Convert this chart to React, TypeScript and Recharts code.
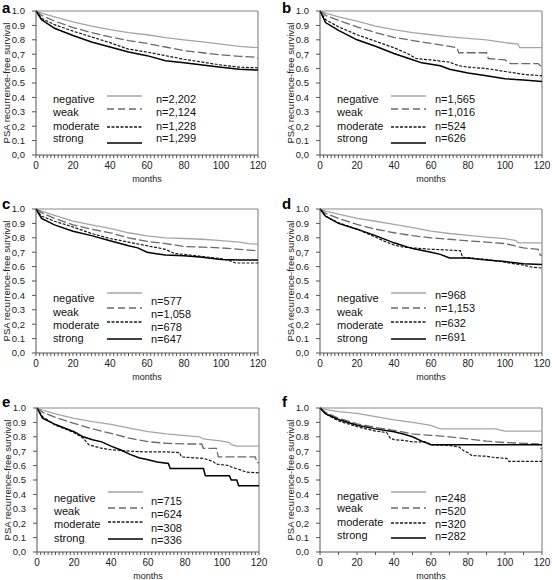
import React from "react";
import { LineChart, Line, XAxis, YAxis, ReferenceLine } from "recharts";

type Pt = [number, number];

const groups = ["negative", "weak", "moderate", "strong"];
const yTickLabels = ["0,0", "0.1", "0,2", "0.3", "0.4", "0.5", "0.6", "0,7", "0.8", "0.9", "1.0"];
const xTickLabels = ["0", "20", "40", "60", "80", "100", "120"];

// panel a
const aNegative: Pt[] = [[0, 1], [3, 0.985], [10, 0.96], [20, 0.925], [30, 0.895], [40, 0.87], [50, 0.85], [60, 0.835], [70, 0.815], [80, 0.8], [90, 0.785], [100, 0.77], [110, 0.755], [120, 0.745]];
const aWeak: Pt[] = [[0, 1], [3, 0.97], [10, 0.93], [20, 0.885], [30, 0.85], [40, 0.82], [50, 0.795], [60, 0.775], [70, 0.75], [80, 0.725], [90, 0.71], [100, 0.695], [110, 0.685], [118, 0.68], [120, 0.67]];
const aModerate: Pt[] = [[0, 1], [3, 0.95], [10, 0.905], [20, 0.86], [30, 0.82], [40, 0.78], [50, 0.735], [60, 0.715], [70, 0.69], [80, 0.665], [90, 0.645], [100, 0.625], [110, 0.61], [120, 0.605]];
const aStrong: Pt[] = [[0, 1], [3, 0.94], [10, 0.88], [20, 0.83], [30, 0.785], [40, 0.75], [50, 0.715], [60, 0.69], [70, 0.655], [80, 0.64], [90, 0.625], [100, 0.61], [110, 0.595], [120, 0.59]];
const aCounts = ["n=2,202", "n=2,124", "n=1,228", "n=1,299"];

// panel b
const bNegative: Pt[] = [[0, 1], [3, 0.985], [10, 0.96], [20, 0.93], [30, 0.895], [40, 0.87], [50, 0.85], [60, 0.835], [70, 0.82], [80, 0.81], [90, 0.8], [100, 0.78], [107, 0.77], [108, 0.745], [120, 0.745]];
const bWeak: Pt[] = [[0, 1], [3, 0.97], [10, 0.935], [20, 0.89], [30, 0.85], [40, 0.817], [50, 0.795], [60, 0.775], [70, 0.755], [74, 0.745], [75, 0.71], [90, 0.71], [91, 0.67], [100, 0.66], [103, 0.635], [118, 0.635], [119, 0.62], [120, 0.62]];
const bModerate: Pt[] = [[0, 1], [3, 0.94], [10, 0.89], [20, 0.835], [30, 0.79], [40, 0.745], [48, 0.7], [52, 0.67], [60, 0.66], [70, 0.645], [75, 0.62], [80, 0.61], [90, 0.6], [100, 0.58], [110, 0.56], [120, 0.55]];
const bStrong: Pt[] = [[0, 1], [3, 0.92], [10, 0.865], [20, 0.8], [30, 0.755], [40, 0.705], [48, 0.67], [55, 0.64], [60, 0.63], [65, 0.62], [70, 0.595], [80, 0.57], [90, 0.55], [100, 0.53], [110, 0.52], [120, 0.51]];
const bCounts = ["n=1,565", "n=1,016", "n=524", "n=626"];

// panel c
const cNegative: Pt[] = [[0, 1], [3, 0.985], [10, 0.955], [20, 0.915], [30, 0.89], [40, 0.865], [50, 0.835], [60, 0.813], [70, 0.8], [80, 0.795], [90, 0.79], [100, 0.78], [110, 0.77], [115, 0.76], [120, 0.755]];
const cWeak: Pt[] = [[0, 1], [3, 0.975], [10, 0.935], [20, 0.89], [30, 0.86], [40, 0.835], [50, 0.8], [60, 0.775], [70, 0.76], [80, 0.74], [90, 0.735], [100, 0.73], [110, 0.72], [120, 0.71]];
const cModerate: Pt[] = [[0, 1], [3, 0.95], [10, 0.915], [20, 0.875], [30, 0.83], [40, 0.795], [50, 0.77], [60, 0.745], [70, 0.72], [75, 0.69], [80, 0.685], [90, 0.67], [100, 0.655], [105, 0.64], [108, 0.625], [120, 0.625]];
const cStrong: Pt[] = [[0, 1], [3, 0.935], [10, 0.89], [20, 0.845], [30, 0.815], [40, 0.78], [50, 0.745], [55, 0.73], [60, 0.7], [65, 0.69], [70, 0.68], [80, 0.675], [90, 0.665], [100, 0.65], [110, 0.645], [120, 0.645]];
const cCounts = ["n=577", "n=1,058", "n=678", "n=647"];

// panel d
const dNegative: Pt[] = [[0, 1], [3, 0.985], [10, 0.965], [20, 0.935], [30, 0.915], [40, 0.893], [50, 0.87], [60, 0.847], [70, 0.83], [80, 0.817], [90, 0.805], [100, 0.794], [106, 0.78], [107, 0.765], [120, 0.765]];
const dWeak: Pt[] = [[0, 1], [3, 0.97], [10, 0.935], [20, 0.893], [30, 0.86], [40, 0.835], [50, 0.815], [60, 0.8], [70, 0.79], [80, 0.778], [90, 0.77], [100, 0.76], [105, 0.745], [110, 0.73], [118, 0.72], [119, 0.68], [120, 0.68]];
const dModerate: Pt[] = [[0, 1], [3, 0.95], [10, 0.905], [20, 0.86], [30, 0.805], [35, 0.775], [40, 0.75], [45, 0.735], [50, 0.73], [60, 0.72], [70, 0.715], [76, 0.71], [77, 0.665], [90, 0.65], [100, 0.63], [110, 0.61], [115, 0.595], [120, 0.59]];
const dStrong: Pt[] = [[0, 1], [3, 0.95], [10, 0.9], [20, 0.86], [30, 0.815], [40, 0.765], [50, 0.725], [60, 0.7], [65, 0.685], [70, 0.66], [80, 0.66], [90, 0.645], [100, 0.635], [110, 0.62], [120, 0.615]];
const dCounts = ["n=968", "n=1,153", "n=632", "n=691"];

// panel e
const eNegative: Pt[] = [[0, 1], [3, 0.985], [10, 0.96], [20, 0.928], [30, 0.905], [40, 0.886], [50, 0.86], [60, 0.836], [70, 0.82], [80, 0.808], [88, 0.8], [90, 0.785], [100, 0.77], [104, 0.76], [105, 0.745], [108, 0.735], [120, 0.735]];
const eWeak: Pt[] = [[0, 1], [3, 0.97], [10, 0.935], [20, 0.893], [30, 0.855], [40, 0.824], [50, 0.79], [60, 0.766], [70, 0.755], [80, 0.75], [89, 0.75], [90, 0.72], [97, 0.72], [98, 0.66], [118, 0.66], [119, 0.62], [120, 0.62]];
const eModerate: Pt[] = [[0, 1], [3, 0.94], [10, 0.88], [20, 0.83], [25, 0.79], [28, 0.745], [35, 0.72], [40, 0.71], [50, 0.7], [60, 0.695], [70, 0.695], [77, 0.69], [78, 0.66], [90, 0.65], [95, 0.63], [97, 0.61], [104, 0.6], [105, 0.59], [110, 0.57], [113, 0.555], [120, 0.55]];
const eStrong: Pt[] = [[0, 1], [3, 0.93], [10, 0.885], [20, 0.835], [25, 0.8], [30, 0.78], [35, 0.765], [40, 0.735], [45, 0.71], [50, 0.68], [55, 0.655], [60, 0.64], [65, 0.625], [71, 0.615], [72, 0.58], [90, 0.58], [91, 0.53], [104, 0.53], [105, 0.5], [108, 0.5], [109, 0.46], [120, 0.46]];
const eCounts = ["n=715", "n=624", "n=308", "n=336"];

// panel f
const fNegative: Pt[] = [[0, 1], [5, 0.985], [10, 0.975], [20, 0.963], [30, 0.94], [40, 0.917], [50, 0.9], [60, 0.88], [65, 0.855], [95, 0.855], [100, 0.84], [120, 0.84]];
const fWeak: Pt[] = [[0, 1], [3, 0.97], [10, 0.93], [20, 0.89], [30, 0.865], [40, 0.845], [50, 0.82], [60, 0.81], [70, 0.8], [80, 0.785], [90, 0.77], [100, 0.76], [110, 0.755], [118, 0.75], [119, 0.72], [120, 0.72]];
const fModerate: Pt[] = [[0, 1], [3, 0.96], [10, 0.91], [20, 0.87], [30, 0.84], [36, 0.83], [38, 0.79], [40, 0.78], [45, 0.775], [50, 0.765], [57, 0.765], [60, 0.745], [70, 0.74], [75, 0.73], [78, 0.7], [80, 0.69], [82, 0.67], [90, 0.665], [95, 0.655], [101, 0.65], [102, 0.63], [120, 0.63]];
const fStrong: Pt[] = [[0, 1], [3, 0.96], [10, 0.92], [20, 0.88], [30, 0.855], [40, 0.835], [45, 0.82], [50, 0.8], [55, 0.77], [60, 0.745], [120, 0.745]];
const fCounts = ["n=248", "n=520", "n=320", "n=282"];

const FONT = "'Liberation Sans', Arial, Helvetica, sans-serif";

const lineStyles = [
  { stroke: "#a6a6a6", width: 1.3, dash: undefined, legendDash: undefined },
  { stroke: "#6a6a6a", width: 1.3, dash: "9 3", legendDash: "7 4" },
  { stroke: "#1a1a1a", width: 1.2, dash: "3 1.5", legendDash: "3 1.5" },
  { stroke: "#000000", width: 1.5, dash: undefined, legendDash: undefined },
];

const ticksEvery2 = Array.from({ length: 61 }, (_, i) => i * 2);
const ticksEvery10 = Array.from({ length: 13 }, (_, i) => i * 10);
const yTicks = yTickLabels.map((_, i) => i / 10);

interface PanelCfg {
  letter: string;
  px: number;
  py: number;
  series: Pt[][];
  counts: string[];
  xTicks: number[];
  nX: number;
  textRows: number[];
  nRows: number[];
  lineRows: number[];
  letterY: number;
}

const PW = 222;
const PH = 144;

const panels: PanelCfg[] = [
  { letter: "a", px: 36, py: 11, series: [aNegative, aWeak, aModerate, aStrong], counts: aCounts, xTicks: ticksEvery2, nX: 120, textRows: [88, 101, 115, 127], nRows: [88, 101, 115, 127], lineRows: [85, 98, 116, 132], letterY: 13 },
  { letter: "b", px: 320, py: 11, series: [bNegative, bWeak, bModerate, bStrong], counts: bCounts, xTicks: ticksEvery2, nX: 115, textRows: [88, 101, 115, 127], nRows: [88, 101, 115, 127], lineRows: [85, 98, 116, 132], letterY: 13 },
  { letter: "c", px: 36, py: 209, series: [cNegative, cWeak, cModerate, cStrong], counts: cCounts, xTicks: ticksEvery2, nX: 115, textRows: [89, 103, 116, 129], nRows: [92, 105, 118, 130], lineRows: [84, 99, 113, 130], letterY: 209 },
  { letter: "d", px: 320, py: 209, series: [dNegative, dWeak, dModerate, dStrong], counts: dCounts, xTicks: ticksEvery2, nX: 115, textRows: [89, 103, 116, 129], nRows: [86, 99, 114, 128], lineRows: [84, 99, 113, 130], letterY: 209 },
  { letter: "e", px: 37, py: 408, series: [eNegative, eWeak, eModerate, eStrong], counts: eCounts, xTicks: ticksEvery2, nX: 114, textRows: [90, 103, 116, 130], nRows: [93, 106, 120, 132], lineRows: [84, 100, 114, 131], letterY: 407 },
  { letter: "f", px: 320, py: 408, series: [fNegative, fWeak, fModerate, fStrong], counts: fCounts, xTicks: ticksEvery10, nX: 115, textRows: [88, 100, 114, 127], nRows: [90, 103, 116, 128], lineRows: [84, 100, 115, 130], letterY: 407 },
];

const xLabel = (v: number) => (xTickLabels.includes(String(v)) ? String(v) : "");
const yLabel = (v: number) => yTickLabels[Math.round(v * 10)] ?? "";

function Panel({ cfg }: { cfg: PanelCfg }) {
  return (
    <div style={{ position: "absolute", left: cfg.px - 40, top: cfg.py - 6 }}>
      <LineChart width={PW + 54} height={PH + 36} margin={{ top: 6, right: 14, left: 0, bottom: 0 }}>
        <XAxis
          type="number"
          dataKey="m"
          domain={[0, 120]}
          ticks={cfg.xTicks}
          interval={0}
          minTickGap={0}
          tickFormatter={xLabel}
          height={30}
          tickSize={3}
          tickMargin={4}
          stroke="#555"
          tick={{ fontSize: 10, fill: "#222", fontFamily: FONT }}
        />
        <YAxis
          type="number"
          dataKey="s"
          domain={[0, 1]}
          ticks={yTicks}
          interval={0}
          tickFormatter={yLabel}
          width={40}
          tickSize={4}
          tickMargin={7}
          stroke="#555"
          tick={{ fontSize: 9.5, fill: "#222", fontFamily: FONT }}
        />
        <ReferenceLine y={1} stroke="#8a8a8a" strokeWidth={1.2} ifOverflow="visible" />
        <ReferenceLine x={120} stroke="#8a8a8a" strokeWidth={1.2} ifOverflow="visible" />
        {cfg.series.map((pts, i) => (
          <Line
            key={groups[i]}
            name={groups[i]}
            data={pts.map(([m, s]) => ({ m, s }))}
            dataKey="s"
            type="linear"
            stroke={lineStyles[i].stroke}
            strokeWidth={lineStyles[i].width}
            strokeDasharray={lineStyles[i].dash}
            dot={false}
            activeDot={false}
            isAnimationActive={false}
          />
        ))}
      </LineChart>
    </div>
  );
}

function Overlay() {
  return (
    <svg width={552} height={580} style={{ position: "absolute", left: 0, top: 0, pointerEvents: "none" }} fontFamily={FONT}>
      {panels.map((p) => (
        <g key={p.letter}>
          <text x={p.px < 100 ? 2 : 282} y={p.letterY} fontSize={15} fontWeight="bold" fill="#000">
            {p.letter}
          </text>
          <text
            x={p.px - 30}
            y={p.py + PH / 2}
            fontSize={9.5}
            fill="#222"
            textAnchor="middle"
            dominantBaseline="central"
            transform={`rotate(-90 ${p.px - 30} ${p.py + PH / 2})`}
          >
            PSA recurrence-free survival
          </text>
          <text x={p.px + PW / 2} y={p.py + PH + 24} fontSize={9} fill="#222" textAnchor="middle" dominantBaseline="central">
            months
          </text>
          {groups.map((g, i) => (
            <g key={g}>
              <text x={p.px + 17} y={p.py + p.textRows[i]} fontSize={11} fill="#111" dominantBaseline="central">
                {g}
              </text>
              <line
                x1={p.px + 71}
                x2={p.px + 106}
                y1={p.py + p.lineRows[i]}
                y2={p.py + p.lineRows[i]}
                stroke={lineStyles[i].stroke}
                strokeWidth={lineStyles[i].width + 0.2}
                strokeDasharray={lineStyles[i].legendDash}
              />
              <text x={p.px + p.nX} y={p.py + p.nRows[i]} fontSize={11} fill="#111" dominantBaseline="central">
                {p.counts[i]}
              </text>
            </g>
          ))}
        </g>
      ))}
    </svg>
  );
}

export default function App() {
  return (
    <div style={{ position: "absolute", left: 0, top: 0, width: 552, height: 580, background: "#fff", fontFamily: FONT }}>
      {panels.map((p) => (
        <Panel key={p.letter} cfg={p} />
      ))}
      <Overlay />
    </div>
  );
}
